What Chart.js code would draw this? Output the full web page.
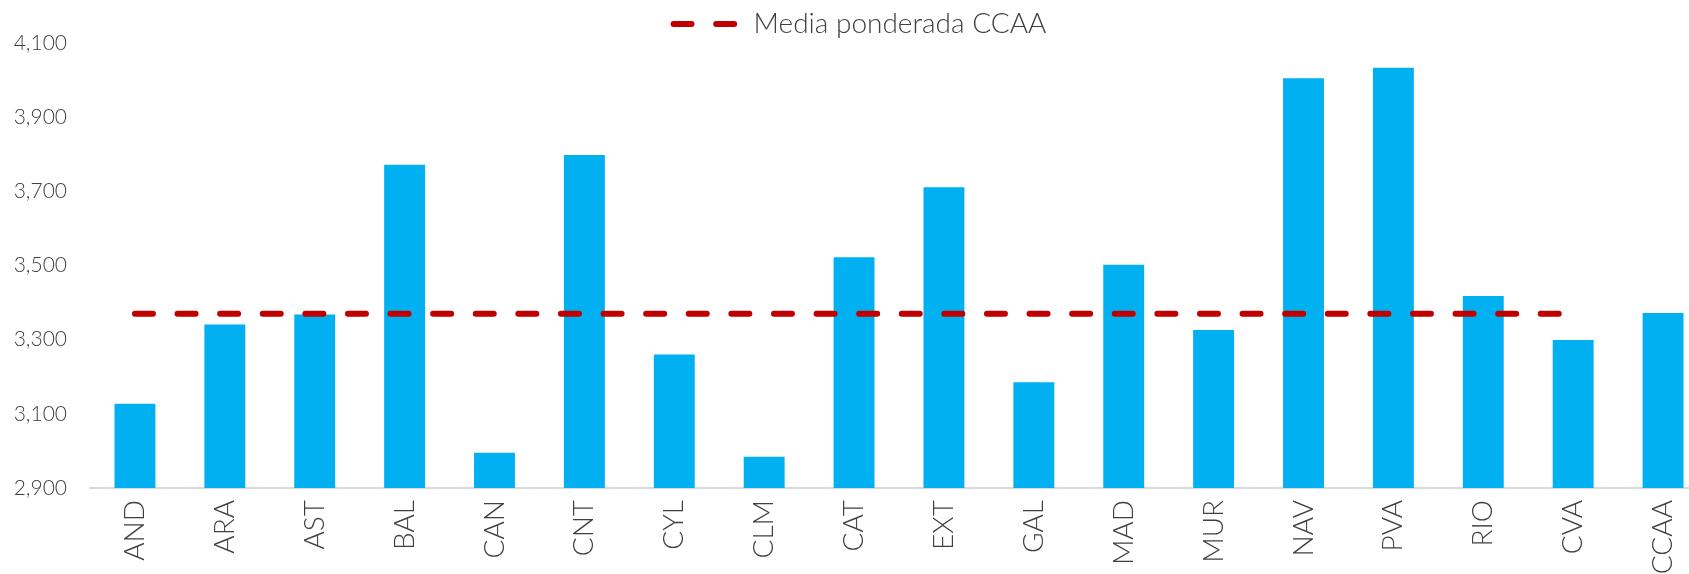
<!DOCTYPE html>
<html>
<head>
<meta charset="utf-8">
<script src="https://cdn.jsdelivr.net/npm/chart.js@4/dist/chart.umd.min.js"></script>
<style>
    html, body { margin: 0; padding: 0; background: #fff; overflow: hidden; }
    #wrap { width: 1710px; height: 574px; }
</style>
</head>
<body>
<div id="wrap"><canvas id="bl-chart" width="1710" height="574"></canvas></div>
<script>
var categories = ['AND', 'ARA', 'AST', 'BAL', 'CAN', 'CNT', 'CYL', 'CLM', 'CAT', 'EXT', 'GAL', 'MAD', 'MUR', 'NAV', 'PVA', 'RIO', 'CVA', 'CCAA'];
var salaryValues = [3127, 3341, 3368, 3772, 2995, 3798, 3260, 2984, 3522, 3711, 3185, 3502, 3326, 4005, 4033, 3418, 3299, 3372];
var mediaValues = [3370, 3370, 3370, 3370, 3370, 3370, 3370, 3370, 3370, 3370, 3370, 3370, 3370, 3370, 3370, 3370, 3370, null];
var yTicks = [2900, 3100, 3300, 3500, 3700, 3900, 4100];

var FONT = "Lato, 'Open Sans', sans-serif";
var TEXT_COLOR = '#404040';
var DASH = [18, 24.6];

document.addEventListener('DOMContentLoaded', function () {
    initChart();
});

function initChart() {
    var ctx = document.getElementById('bl-chart');
    if (!ctx || typeof Chart === 'undefined') return;

    // fix legend height so the plot starts where the original does
    var legendHeight = {
        id: 'legendHeight',
        beforeInit: function (chart) {
            var fit = chart.legend.fit;
            chart.legend.fit = function () {
                fit.bind(chart.legend)();
                this.height = 43;
            };
        }
    };

    new Chart(ctx.getContext('2d'), {
        type: 'bar',
        data: {
            labels: categories,
            datasets: [{
                type: 'line',
                label: 'Media ponderada CCAA',
                data: mediaValues,
                borderColor: '#C00000',
                backgroundColor: '#C00000',
                borderWidth: 6,
                borderDash: DASH,
                borderCapStyle: 'round',
                pointRadius: 0,
                pointHoverRadius: 0,
                fill: false,
                order: 0
            }, {
                label: 'Salario',
                data: salaryValues,
                backgroundColor: '#00B0F0',
                borderWidth: 0,
                categoryPercentage: 1,
                barPercentage: 0.455,
                order: 1
            }]
        },
        options: {
            responsive: false,
            animation: false,
            layout: { padding: { left: 12, right: 2, top: 0, bottom: 0 } },
            plugins: {
                legend: {
                    display: true,
                    position: 'top',
                    labels: {
                        generateLabels: function (chart) {
                            var items = Chart.defaults.plugins.legend.labels.generateLabels(chart);
                            return items.filter(function (item) {
                                return item.text === 'Media ponderada CCAA';
                            }).map(function (item) {
                                item.lineDash = DASH;
                                item.lineCap = 'round';
                                item.lineWidth = 6;
                                item.strokeStyle = '#C00000';
                                item.pointStyle = 'line';
                                return item;
                            });
                        },
                        usePointStyle: true,
                        pointStyle: 'line',
                        pointStyleWidth: 66,
                        boxHeight: 28,
                        padding: 10,
                        color: TEXT_COLOR,
                        font: { family: FONT, size: 28, weight: '300' }
                    }
                },
                tooltip: { enabled: false }
            },
            scales: {
                x: {
                    offset: true,
                    grid: { display: false, drawTicks: false },
                    border: { display: true, color: '#D9D9D9', width: 2 },
                    ticks: {
                        autoSkip: false,
                        minRotation: 90,
                        maxRotation: 90,
                        padding: 12,
                        color: TEXT_COLOR,
                        font: { family: FONT, size: 28, weight: '300' }
                    },
                    afterFit: function (scale) { scale.height = 86; }
                },
                y: {
                    min: 2900,
                    max: 4100,
                    grid: { display: false, drawTicks: false },
                    border: { display: false },
                    afterBuildTicks: function (scale) {
                        scale.ticks = yTicks.map(function (v) { return { value: v }; });
                    },
                    ticks: {
                        padding: 23,
                        color: TEXT_COLOR,
                        font: { family: FONT, size: 21, weight: '300' },
                        callback: function (v) { return v.toLocaleString('en-US'); }
                    },
                    afterFit: function (scale) { scale.width = 78; }
                }
            }
        },
        plugins: [legendHeight]
    });
}
</script>
</body>
</html>
